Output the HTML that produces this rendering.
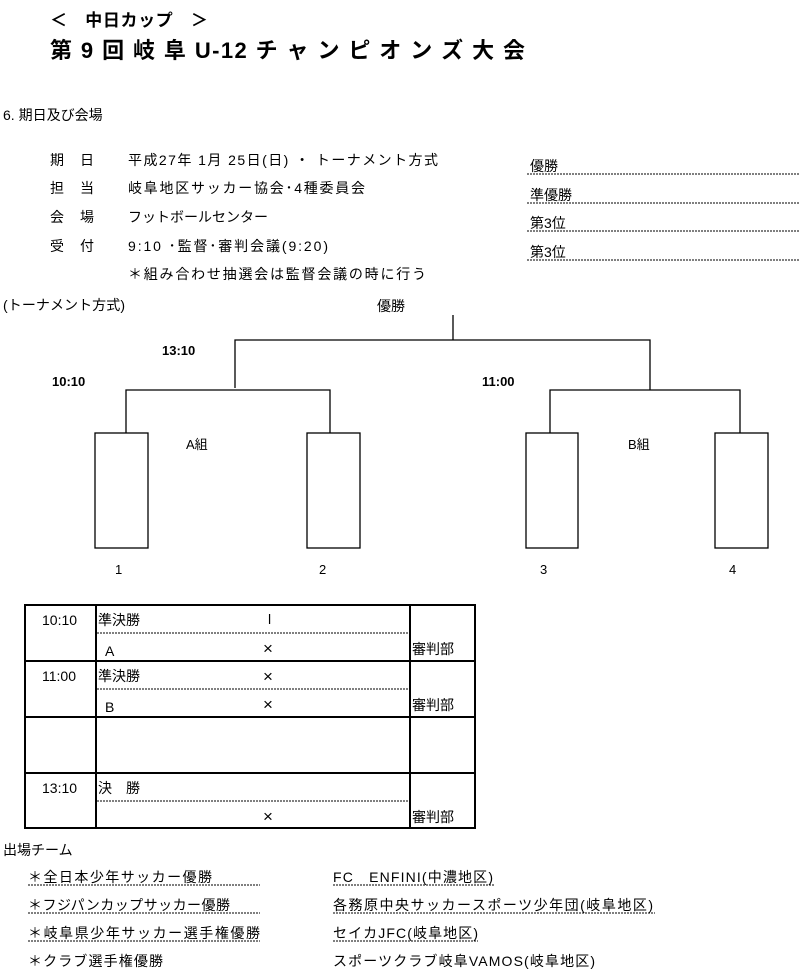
<!DOCTYPE html>
<html><head><meta charset="utf-8"><style>
body{margin:0;background:#fff;}
svg text{font-family:"Liberation Sans","Noto Sans CJK JP",sans-serif;fill:#000;}
</style></head><body>
<svg width="800" height="969" xmlns="http://www.w3.org/2000/svg">
<g font-weight="bold">
<text x="50" y="26" font-size="17" textLength="158" lengthAdjust="spacing">＜　中日カップ　＞</text>
<text x="50" y="58" font-size="22" textLength="475" lengthAdjust="spacing">第 9 回  岐 阜 U-12  チ ャ ン ピ オ ン ズ 大 会</text>
</g>
<g font-size="14">
<text x="3" y="120">6. 期日及び会場</text>
<text x="50" y="165" textLength="44">期 日</text><text x="128" y="165" textLength="310">平成27年 1月 25日(日) ・ トーナメント方式</text>
<text x="50" y="193" textLength="44">担 当</text><text x="128" y="193" textLength="237">岐阜地区サッカー協会･4種委員会</text>
<text x="50" y="222" textLength="44">会 場</text><text x="128" y="222" textLength="140">フットボールセンター</text>
<text x="50" y="251" textLength="44">受 付</text><text x="128" y="251" textLength="200">9:10 ･監督･審判会議(9:20)</text>
<text x="128" y="279" textLength="298">＊組み合わせ抽選会は監督会議の時に行う</text>
<text x="530" y="171">優勝</text><text x="530" y="200">準優勝</text><text x="530" y="228">第3位</text><text x="530" y="257">第3位</text>
<text x="3" y="310" textLength="122">(トーナメント方式)</text>
<text x="377" y="311">優勝</text>
</g>
<g stroke="#000" stroke-width="1" stroke-dasharray="2,1">
<line x1="527" y1="174" x2="800" y2="174"/><line x1="527" y1="203" x2="800" y2="203"/>
<line x1="527" y1="231" x2="800" y2="231"/><line x1="527" y1="260" x2="800" y2="260"/>
</g>
<g stroke="#000" stroke-width="1.3" fill="none">
<path d="M453 315V340M235 388V340H650V390M126 433V390H330V433M550 433V390H740V433"/>
<rect x="95" y="433" width="53" height="115"/><rect x="307" y="433" width="53" height="115"/>
<rect x="526" y="433" width="52" height="115"/><rect x="715" y="433" width="53" height="115"/>
</g>
<g font-size="13" font-weight="bold">
<text x="162" y="355">13:10</text><text x="52" y="386">10:10</text><text x="482" y="386">11:00</text>
</g>
<g font-size="13">
<text x="186" y="449">A組</text><text x="628" y="449">B組</text>
<text x="115" y="574">1</text><text x="319" y="574">2</text><text x="540" y="574">3</text><text x="729" y="574">4</text>
</g>
<g stroke="#000" stroke-width="2" fill="none">
<rect x="25" y="605" width="450" height="223"/>
<path d="M96 605V828M410 605V828M25 661H475M25 717H475M25 773H475"/>
</g>
<g stroke="#000" stroke-width="1" stroke-dasharray="2,1">
<line x1="97" y1="633" x2="409" y2="633"/><line x1="97" y1="689" x2="409" y2="689"/><line x1="97" y1="801" x2="409" y2="801"/>
</g>
<g font-size="14">
<text x="42" y="625">10:10</text><text x="42" y="681">11:00</text><text x="42" y="793">13:10</text>
<text x="98" y="625">準決勝</text><text x="98" y="681">準決勝</text><text x="98" y="793">決　勝</text>
<text x="105" y="656">A</text><text x="105" y="712">B</text>
<text x="268" y="624">l</text>
</g>
<g font-size="17">
<text x="263" y="654">×</text><text x="263" y="682">×</text><text x="263" y="710">×</text><text x="263" y="822">×</text>
</g>
<g font-size="14">
<text x="412" y="654">審判部</text><text x="412" y="710">審判部</text><text x="412" y="822">審判部</text>
<text x="3" y="855">出場チーム</text>
<text x="28" y="882" textLength="184">＊全日本少年サッカー優勝</text><text x="28" y="910" textLength="202">＊フジパンカップサッカー優勝</text>
<text x="28" y="938" textLength="232">＊岐阜県少年サッカー選手権優勝</text><text x="28" y="966" textLength="135">＊クラブ選手権優勝</text>
<text x="333" y="882" textLength="160">FC　ENFINI(中濃地区)</text><text x="333" y="910" textLength="320">各務原中央サッカースポーツ少年団(岐阜地区)</text>
<text x="333" y="938" textLength="145">セイカJFC(岐阜地区)</text><text x="333" y="966" textLength="262">スポーツクラブ岐阜VAMOS(岐阜地区)</text>
</g>
<g stroke="#000" stroke-width="1" stroke-dasharray="2,1">
<line x1="28" y1="885" x2="260" y2="885"/><line x1="28" y1="913" x2="260" y2="913"/><line x1="28" y1="941" x2="260" y2="941"/>
<line x1="333" y1="885" x2="495" y2="885"/><line x1="333" y1="913" x2="655" y2="913"/><line x1="333" y1="941" x2="478" y2="941"/>
</g>
</svg>
</body></html>
